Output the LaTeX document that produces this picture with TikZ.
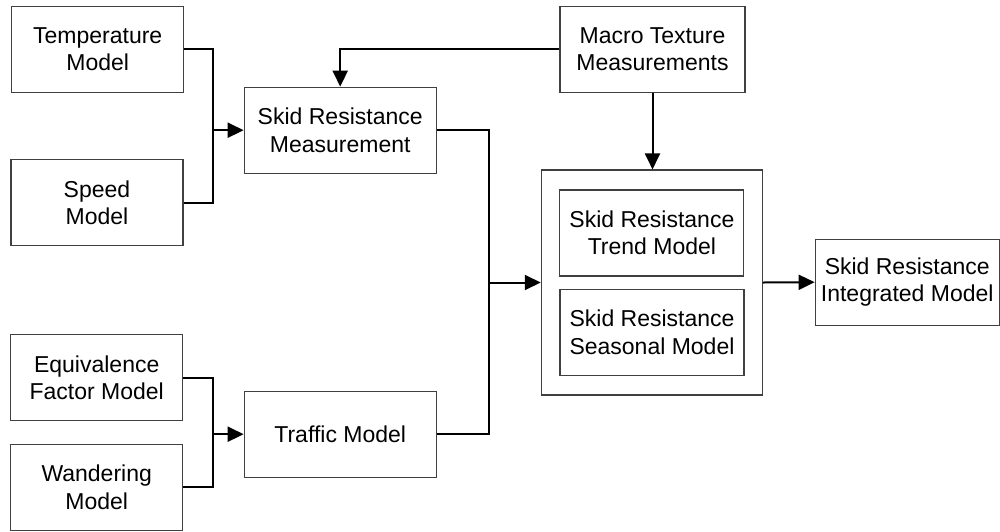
\documentclass[tikz,border=0pt]{standalone}
\usepackage{fontspec}
\setmainfont{Liberation Sans}
\usetikzlibrary{arrows.meta}
\begin{document}
\begin{tikzpicture}[x=1pt,y=-1pt,
  box/.style={draw=black!75,line width=1.1pt,inner sep=0pt,align=center,
    font=\fontsize{23}{27.3}\selectfont},
  conn/.style={draw=black,line width=2pt},
  arr/.style={conn,-{Triangle[length=16pt,width=15pt]}}]
\useasboundingbox (0,0) rectangle (1000,531);
\fill[white] (0,0) rectangle (1000,531);
\node[box,minimum width=172pt,minimum height=86pt] (temp) at (97.7,49.2) {Temperature\\Model};
\node[box,minimum width=172pt,minimum height=86pt] (speed) at (97,202.8) {Speed\\Model};
\node[box,minimum width=192pt,minimum height=86pt] (srm) at (340.2,130.2) {Skid Resistance\\Measurement};
\node[box,minimum width=185pt,minimum height=86pt] (macro) at (652.5,49.2) {Macro Texture\\Measurements};
\node[box,minimum width=221pt,minimum height=225pt] (outer) at (651.8,282.5) {};
\node[box,minimum width=184pt,minimum height=86pt] (trend) at (651.9,233) {Skid Resistance\\Trend Model};
\node[box,minimum width=184pt,minimum height=86pt] (seasonal) at (652,332.2) {Skid Resistance\\Seasonal Model};
\node[box,minimum width=184pt,minimum height=86pt] (integ) at (907.2,282.2) {Skid Resistance\\Integrated Model};
\node[box,minimum width=172pt,minimum height=86pt] (equiv) at (96.7,377.8) {Equivalence\\Factor Model};
\node[box,minimum width=172pt,minimum height=86pt] (wander) at (96.7,487.4) {Wandering\\Model};
\node[box,minimum width=192pt,minimum height=86pt] (traffic) at (340.2,434.2) {Traffic Model};
\coordinate (j1) at (213.3,130.2);
\coordinate (j2) at (213.3,434.2);
\coordinate (j3) at (489,282.5);
\draw[conn] (temp.east) -| (j1);
\draw[conn] (speed.east) -| (j1);
\draw[arr] (j1) -- (srm.west);
\draw[conn] (equiv.east) -| (j2);
\draw[conn] (wander.east) -| (j2);
\draw[arr] (j2) -- (traffic.west);
\draw[conn] (srm.east) -| (j3);
\draw[conn] (traffic.east) -| (j3);
\draw[arr] (j3) -- (outer.west);
\draw[arr] (macro.west) -| (srm.north);
\draw[arr] (macro.south) -- (outer.north -| macro.south);
\draw[arr] (outer.east) -- (integ.west);
\end{tikzpicture}
\end{document}
